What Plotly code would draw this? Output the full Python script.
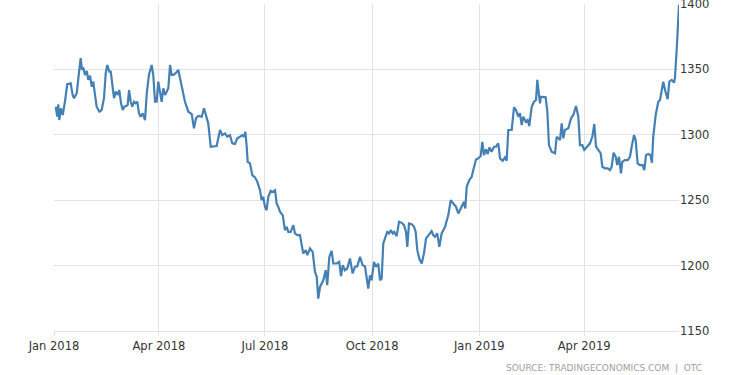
import pandas as pd
import plotly.graph_objects as go

# Days elapsed since 2018-01-01 and gold price (USD/t.oz)
day_offsets = [
    1.5, 2.8, 3.7, 4.5, 6.0, 7.5, 9.4, 11.4, 14.3, 16.0, 17.2, 19.5, 20.9, 22.9, 24.0, 25.1,
    26.6, 28.1, 29.4, 30.9, 32.4, 33.7, 35.2, 36.6, 38.9, 40.9, 42.9, 44.4, 45.7, 47.5, 48.7,
    50.4, 51.5, 53.0, 54.7, 56.0, 57.5, 59.0, 60.3, 61.8, 63.2, 64.4, 65.8, 67.2, 68.7, 70.1,
    71.5, 72.9, 74.4, 76.1, 78.1, 79.6, 81.5, 83.8, 85.2, 86.7, 88.1, 89.5, 91.0, 92.4, 93.8,
    95.3, 96.7, 98.1, 99.6, 101.0, 102.4, 104.4, 106.7, 108.7, 111.0,
    112.4, 115.3, 118.2, 120.1, 121.9, 123.8, 126.8, 128.7, 131.0, 132.4, 134.5, 136.7, 139.6,
    142.5, 144.4, 146.8, 148.7, 151.0, 153.0, 155.3, 157.3, 159.6, 161.6, 163.1, 164.2, 165.4,
    166.2, 168.2, 170.2, 172.5, 174.5, 176.8, 178.2, 179.6, 181.1, 182.5, 183.9, 186.0, 187.7,
    189.7, 191.1, 192.5, 194.0, 196.3, 198.2, 199.7, 201.1, 203.1, 205.4, 206.8, 208.8, 211.1,
    213.9, 216.0, 217.4, 219.7, 222.0, 224.0, 225.5, 226.8, 228.3, 231.1, 233.2, 234.5, 236.3,
    238.3, 239.7, 242.6, 244.8, 246.3, 247.8, 249.7, 251.7, 254.0, 256.3, 258.3, 260.3, 262.6,
    264.9, 266.9, 268.4, 269.7, 271.2, 272.6, 274.6, 276.3, 278.3, 279.8, 281.2, 282.6, 284.1,
    286.0, 287.5, 289.0, 290.7, 292.0, 294.1, 296.1, 298.4, 300.4, 302.1, 303.2, 304.7, 307.0,
    309.0, 310.4, 311.8, 313.5, 315.6, 317.5, 319.3, 321.2, 322.7, 324.1, 325.5, 327.0, 328.9,
    330.7,
    332.7, 335.6, 338.4, 340.5, 342.7, 345.0, 347.0, 349.9, 351.9, 353.0, 354.2, 356.4, 358.5,
    359.8, 362.2, 364.1, 366.2, 367.6, 369.0, 370.7, 372.2, 373.6, 375.6, 377.6, 379.3, 381.3,
    382.8, 385.1, 387.0, 388.5, 389.9, 392.8, 394.8, 396.5, 398.5, 399.9, 401.4, 402.8, 404.8,
    406.5, 407.9, 410.0, 411.9, 413.7, 414.8, 416.2, 417.1, 417.9, 419.9, 422.0, 423.4,
    424.8, 427.1, 430.0, 431.4, 434.3, 435.7, 437.1, 438.5, 441.4, 443.7, 445.7, 448.0, 450.0,
    451.4, 453.4, 455.1, 457.2, 460.0, 462.0, 463.7, 465.2, 467.1, 469.2, 470.6, 472.9, 475.2,
    477.2, 478.6, 480.3, 482.1, 483.4, 484.9, 486.6, 487.7, 490.0, 492.4, 494.3, 495.8, 497.8,
    499.2, 500.9, 502.9, 505.2, 506.6, 508.1, 510.0, 511.8, 513.2, 514.3, 516.4, 518.6, 520.1,
    522.0, 522.9, 524.4, 526.7, 528.1, 530.1, 532.1, 532.9, 534.4, 536.4,
]
gold_price = [
    1321.5, 1313.9, 1323.4, 1311.3, 1320.3, 1315.2, 1325.3, 1338.7, 1339.4, 1330.5, 1328.0, 1331.8,
    1343.3, 1358.6, 1349.6, 1351.4, 1345.8, 1348.9, 1342.0, 1345.3, 1336.8, 1340.7, 1330.5, 1321.5,
    1317.7, 1319.0, 1328.0, 1347.1, 1353.4, 1348.3, 1348.3, 1333.0, 1328.0, 1333.0, 1330.5, 1334.3,
    1324.1, 1319.0, 1321.5, 1322.0, 1322.8, 1334.3, 1325.3, 1321.5, 1325.3, 1324.1, 1325.3, 1316.5,
    1313.9, 1316.5, 1311.3, 1331.8, 1345.8, 1353.4, 1345.8, 1325.3, 1325.3, 1340.7, 1331.8, 1325.3,
    1335.6, 1330.5, 1333.0, 1335.6, 1353.4, 1345.8, 1345.8, 1347.1, 1349.6, 1340.7, 1330.5,
    1325.3, 1317.7, 1315.9, 1305.0, 1312.6, 1314.4, 1313.9, 1320.3, 1313.9, 1308.8, 1290.9, 1290.9,
    1291.4, 1303.7, 1299.8, 1301.1, 1298.5, 1299.8, 1293.5, 1293.0, 1297.3, 1298.5, 1299.8, 1298.5,
    1302.4, 1290.9, 1279.4, 1278.2, 1269.2, 1267.5, 1264.1, 1257.7, 1250.1, 1252.6, 1244.9, 1242.4,
    1252.6, 1257.2, 1256.4, 1257.7, 1247.5, 1244.9, 1241.1, 1238.6, 1227.1, 1229.6, 1225.8, 1225.8,
    1230.9, 1224.6, 1223.3, 1223.3,
    1209.3, 1211.8, 1208.0, 1213.1, 1210.5, 1195.2, 1191.3, 1174.8, 1183.7, 1188.8, 1196.5, 1185.0,
    1206.7, 1211.3, 1201.6, 1201.6, 1202.8, 1191.9, 1200.3, 1196.5, 1197.8, 1205.4, 1194.0, 1199.0,
    1199.5, 1206.7, 1200.3, 1199.5, 1191.3, 1182.5, 1192.6, 1188.8, 1202.8, 1199.0, 1201.6, 1188.8,
    1190.1, 1216.9, 1220.8, 1225.8, 1224.6, 1227.1, 1224.6, 1225.8, 1222.5, 1233.5, 1232.7, 1230.9,
    1225.8, 1214.3, 1232.2, 1231.7, 1229.6, 1225.8, 1211.8, 1205.4, 1201.6, 1209.3, 1220.8, 1223.3,
    1224.6, 1226.3, 1223.3, 1222.0, 1224.6, 1214.3,
    1224.6, 1229.6, 1238.6, 1250.1, 1247.5, 1244.9, 1239.9, 1244.5, 1248.8, 1243.7, 1260.3, 1265.4,
    1267.9, 1273.0, 1281.2, 1282.0, 1283.8, 1294.7, 1284.5, 1288.9, 1285.3, 1290.4, 1287.1, 1290.9,
    1290.9, 1293.5, 1282.0, 1280.2, 1282.8, 1280.2, 1303.7, 1303.7, 1321.1, 1319.0, 1313.9, 1316.5,
    1307.5, 1313.9, 1310.0, 1311.3, 1306.7, 1321.5, 1325.3, 1326.6, 1342.0, 1330.5, 1324.1, 1329.2,
    1328.7, 1328.7, 1317.5,
    1292.2, 1287.1, 1285.8, 1298.5, 1296.0, 1308.8, 1297.3, 1303.7, 1305.0, 1312.6, 1315.2, 1322.1,
    1313.9, 1292.2, 1292.2, 1288.4, 1290.9, 1293.5, 1298.5, 1308.3, 1290.9, 1288.4, 1285.8, 1275.6,
    1274.4, 1274.4, 1273.0, 1275.6, 1286.3, 1283.2, 1276.9, 1283.2, 1270.5, 1279.4, 1280.7, 1280.7,
    1283.2, 1290.9, 1299.8, 1296.0, 1278.2, 1276.9, 1276.9, 1273.0, 1284.5, 1285.3, 1284.5, 1278.6,
    1298.5, 1315.2, 1325.3, 1326.6, 1336.4, 1340.7, 1334.3, 1327.2, 1340.7, 1342.0, 1339.9, 1343.3,
    1364.9, 1399.4,
]

start_date = "2018-01-01"
x_tick_dates = ["2018-01-01", "2018-04-01", "2018-07-01", "2018-10-01", "2019-01-01", "2019-04-01"]
x_tick_labels = ["Jan 2018", "Apr 2018", "Jul 2018", "Oct 2018", "Jan 2019", "Apr 2019"]
y_ticks = [1150, 1200, 1250, 1300, 1350, 1400]
source_text = "SOURCE: TRADINGECONOMICS.COM  |  OTC"

dates = pd.Timestamp(start_date) + pd.to_timedelta(day_offsets, unit="D")

fig = go.Figure()
fig.add_trace(go.Scatter(
    x=dates, y=gold_price, mode="lines",
    line=dict(color="#4580b5", width=2.2),
    hoverinfo="skip", showlegend=False,
))

grid = "#e3e3e3"
fig.update_layout(
    width=750, height=375,
    margin=dict(l=54, r=71, t=4, b=44),
    paper_bgcolor="white", plot_bgcolor="white",
    font=dict(family="DejaVu Sans", size=12, color="#333333"),
    xaxis=dict(
        range=[pd.Timestamp(start_date), dates[-1]],
        tickvals=x_tick_dates, ticktext=x_tick_labels,
        showgrid=True, gridcolor=grid, gridwidth=1,
        ticks="outside", ticklen=4, tickcolor=grid,
        showline=True, linecolor=grid, linewidth=1,
        zeroline=False, automargin=False,
        tickfont=dict(size=11.5, color="#333333"),
    ),
    yaxis=dict(
        range=[1150, 1400.05], side="right",
        tickvals=y_ticks, ticklabeloverflow="allow",
        showgrid=True, gridcolor=grid, gridwidth=1,
        ticks="", zeroline=False, showline=False, automargin=False,
        tickfont=dict(size=11.5, color="#333333"),
    ),
    annotations=[dict(
        text=source_text, xref="paper", yref="paper",
        x=1.04, y=-0.092, xanchor="right", yanchor="top",
        showarrow=False, font=dict(size=9, color="#a0a0a0"),
    )],
)

fig.write_html(
    "out.html",
    config={"displayModeBar": False, "staticPlot": True},
    post_script="document.body.style.margin='0';document.body.style.padding='0';",
)
